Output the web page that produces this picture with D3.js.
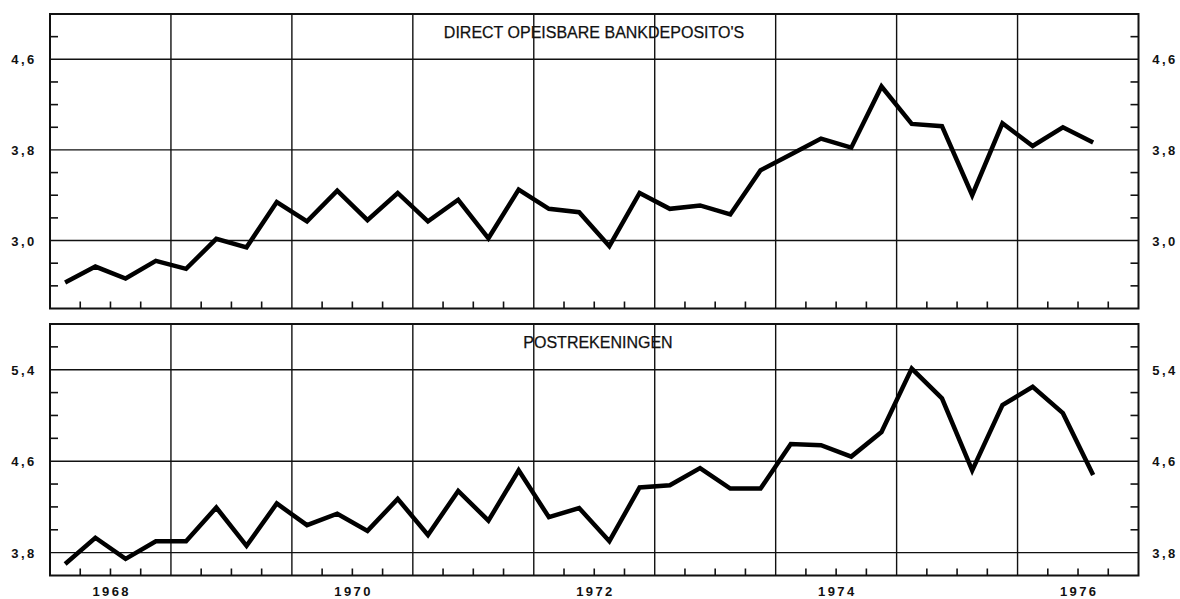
<!DOCTYPE html>
<html>
<head>
<meta charset="utf-8">
<script src="https://cdn.jsdelivr.net/npm/d3@7"></script>
<style>
  body { margin: 0; background: #fff; }
  svg { display: block; }
  .frame { fill: none; stroke: #111; stroke-width: 2; }
  .grid line { stroke: #111; stroke-width: 1.4; }
  .tick-mark { stroke: #111; stroke-width: 1.6; }
  .series { fill: none; stroke: #000; stroke-width: 4.5; stroke-linejoin: miter; }
  .lbl { font-family: "Liberation Sans", Arial, sans-serif; font-weight: bold; font-size: 13px; letter-spacing: 2.4px; fill: #111; }
  .title { font-family: "Liberation Sans", Arial, sans-serif; font-size: 16px; fill: #111; stroke: #111; stroke-width: 0.25px; }
</style>
</head>
<body>
<svg width="1180" height="599"></svg>
<script>
// quarters, 1968-I .. 1976-III
var quarters = [
  "1968Q1","1968Q2","1968Q3","1968Q4",
  "1969Q1","1969Q2","1969Q3","1969Q4",
  "1970Q1","1970Q2","1970Q3","1970Q4",
  "1971Q1","1971Q2","1971Q3","1971Q4",
  "1972Q1","1972Q2","1972Q3","1972Q4",
  "1973Q1","1973Q2","1973Q3","1973Q4",
  "1974Q1","1974Q2","1974Q3","1974Q4",
  "1975Q1","1975Q2","1975Q3","1975Q4",
  "1976Q1","1976Q2","1976Q3"
];

var bankdeposito = [
  2.63, 2.77, 2.665, 2.82, 2.75, 3.015, 2.94, 3.34,
  3.17, 3.44, 3.18, 3.42, 3.17, 3.36, 3.02, 3.45,
  3.28, 3.25, 2.95, 3.42, 3.28, 3.31, 3.23, 3.62,
  3.76, 3.90, 3.82, 4.36, 4.03, 4.01, 3.40, 4.035,
  3.835, 4.00, 3.865
];

var postrekeningen = [
  3.70, 3.93, 3.745, 3.90, 3.90, 4.195, 3.86, 4.23,
  4.04, 4.14, 3.99, 4.27, 3.955, 4.34, 4.08, 4.52,
  4.11, 4.19, 3.90, 4.37, 4.39, 4.54, 4.36, 4.36,
  4.75, 4.74, 4.64, 4.855, 5.41, 5.15, 4.52, 5.09,
  5.25, 5.02, 4.48
];

var yearLabels = ["1968", "1970", "1972", "1974", "1976"];
var yearLines = [1969, 1970, 1971, 1972, 1973, 1974, 1975, 1976];

var topTicks = [3.0, 3.8, 4.6];
var topMinor = [2.6, 2.8, 3.2, 3.4, 3.6, 4.0, 4.2, 4.4, 4.8];
var botTicks = [3.8, 4.6, 5.4];
var botMinor = [4.0, 4.2, 4.4, 4.8, 5.0, 5.2, 5.6];

function qTime(q) {
  // middle of the quarter
  return +q.slice(0, 4) + (+q.slice(5) - 0.5) / 4;
}

var svg = d3.select("svg");
var left = 50, right = 1138.5;

var x = d3.scaleLinear().domain([1968, 1977]).range([left, right]);

var quarterEdges = [];
quarters.forEach(function(q) {
  var t = +q.slice(0, 4) + (+q.slice(5) - 1) / 4;
  if (+q.slice(5) !== 1) quarterEdges.push(t);
});
quarterEdges.push(1976.75);

function panel(opts) {
  var y = d3.scaleLinear().domain(opts.domain).range([opts.bottom, opts.top]);
  var g = svg.append("g");

  // year gridlines
  g.append("g").attr("class", "grid")
    .selectAll("line").data(yearLines).enter().append("line")
    .attr("x1", d => x(d)).attr("x2", d => x(d))
    .attr("y1", opts.top).attr("y2", opts.bottom);

  // value gridlines
  g.append("g").attr("class", "grid")
    .selectAll("line").data(opts.ticks).enter().append("line")
    .attr("x1", left).attr("x2", right)
    .attr("y1", d => y(d)).attr("y2", d => y(d));

  // minor y ticks, both sides, pointing inward
  g.selectAll(".ml").data(opts.minor).enter().append("line")
    .attr("class", "tick-mark")
    .attr("x1", left).attr("x2", left + 8)
    .attr("y1", d => y(d)).attr("y2", d => y(d));
  g.selectAll(".mr").data(opts.minor).enter().append("line")
    .attr("class", "tick-mark")
    .attr("x1", right - 8).attr("x2", right)
    .attr("y1", d => y(d)).attr("y2", d => y(d));

  // quarter ticks on the bottom edge
  g.selectAll(".qt").data(quarterEdges).enter().append("line")
    .attr("class", "tick-mark")
    .attr("x1", d => x(d)).attr("x2", d => x(d))
    .attr("y1", opts.bottom).attr("y2", opts.bottom - 7);

  g.append("rect").attr("class", "frame")
    .attr("x", left).attr("y", opts.top)
    .attr("width", right - left).attr("height", opts.bottom - opts.top);

  // tick labels left and right
  var fmt = d => d.toFixed(1).replace(".", ",");
  g.selectAll(".tl").data(opts.ticks).enter().append("text")
    .attr("class", "lbl").attr("x", 24).attr("y", d => y(d) + 5)
    .attr("text-anchor", "middle").text(fmt);
  g.selectAll(".tr").data(opts.ticks).enter().append("text")
    .attr("class", "lbl").attr("x", 1165).attr("y", d => y(d) + 5)
    .attr("text-anchor", "middle").text(fmt);

  g.append("text").attr("class", "title")
    .attr("x", opts.titleX).attr("y", opts.titleY)
    .attr("text-anchor", "middle").text(opts.title);

  var line = d3.line()
    .x((d, i) => x(qTime(quarters[i])))
    .y(d => y(d));
  g.append("path").datum(opts.values).attr("class", "series").attr("d", line);
}

panel({
  top: 14, bottom: 308.5, domain: [2.4, 5.0],
  ticks: topTicks, minor: topMinor, values: bankdeposito,
  title: "DIRECT OPEISBARE BANKDEPOSITO'S", titleX: 594, titleY: 37.5
});

panel({
  top: 324, bottom: 575.5, domain: [3.6, 5.8],
  ticks: botTicks, minor: botMinor, values: postrekeningen,
  title: "POSTREKENINGEN", titleX: 598, titleY: 347.5
});

// year labels under the lower panel
svg.selectAll(".yl").data(yearLabels).enter().append("text")
  .attr("class", "lbl")
  .attr("x", d => x(+d + 0.5) + 1.2)
  .attr("y", 596)
  .attr("text-anchor", "middle")
  .text(d => d);
</script>
</body>
</html>
